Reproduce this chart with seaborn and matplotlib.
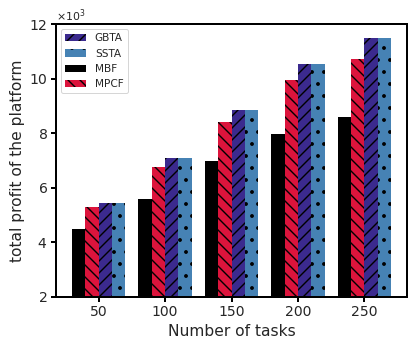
import matplotlib
matplotlib.use("Agg")
import matplotlib.pyplot as plt
from matplotlib.patches import Patch
import seaborn as sns
import pandas as pd

tasks = ["50", "100", "150", "200", "250"]
mbf = [4500, 5600, 7000, 7980, 8580]
mpcf = [5300, 6760, 8410, 9950, 10700]
gbta = [5440, 7100, 8850, 10520, 11480]
ssta = [5440, 7100, 8850, 10520, 11480]

methods = ["MBF", "MPCF", "GBTA", "SSTA"]
colors = {"MBF": "#000000", "MPCF": "#DC143C", "GBTA": "#3B2A8E", "SSTA": "#4682B4"}
hatches = {"MBF": "", "MPCF": "\\\\", "GBTA": "//", "SSTA": "."}

rows = []
for name, vals in zip(methods, [mbf, mpcf, gbta, ssta]):
    for t, v in zip(tasks, vals):
        rows.append({"tasks": t, "method": name, "profit": v})
df = pd.DataFrame(rows)

sns.set_theme(style="ticks")
plt.rcParams["font.family"] = ["DejaVu Sans"]
plt.rcParams["hatch.linewidth"] = 1.4
plt.rcParams["hatch.color"] = "black"

dpi = 72
fig = plt.figure(figsize=(411 / dpi, 341 / dpi), dpi=dpi)
ax = fig.add_axes([56 / 411, 44 / 341, 351 / 411, 273 / 341])

sns.barplot(data=df, x="tasks", y="profit", hue="method", hue_order=methods,
            order=tasks, palette=colors, width=0.8, ax=ax, legend=False,
            saturation=1, errorbar=None)

for cont, name in zip(ax.containers, methods):
    for p in cont.patches:
        p.set_facecolor(colors[name])
        p.set_edgecolor("black")
        p.set_linewidth(0)
        p.set_hatch(hatches[name])

ax.set_xlim(-0.64, 4.64)
ax.set_ylim(2000, 12000)
ax.set_yticks([2000, 4000, 6000, 8000, 10000, 12000])
ax.ticklabel_format(style="sci", axis="y", scilimits=(3, 3), useMathText=True)
ax.yaxis.get_offset_text().set_fontsize(11)

ax.set_xlabel("Number of tasks", fontsize=15.5)
ax.set_ylabel("total profit of the platform", fontsize=15.5)
ax.tick_params(axis="both", labelsize=14, width=2, length=5, color="black")
for s in ax.spines.values():
    s.set_linewidth(2)
    s.set_color("black")
    s.set_visible(True)

handles = [Patch(facecolor=colors[m], edgecolor="black", linewidth=0, hatch=hatches[m])
           for m in ["GBTA", "SSTA", "MBF", "MPCF"]]
ax.legend(handles, ["GBTA", "SSTA", "MBF", "MPCF"], loc="upper left", fontsize=10.5,
          frameon=True)

fig.savefig("out.png", dpi=dpi)
